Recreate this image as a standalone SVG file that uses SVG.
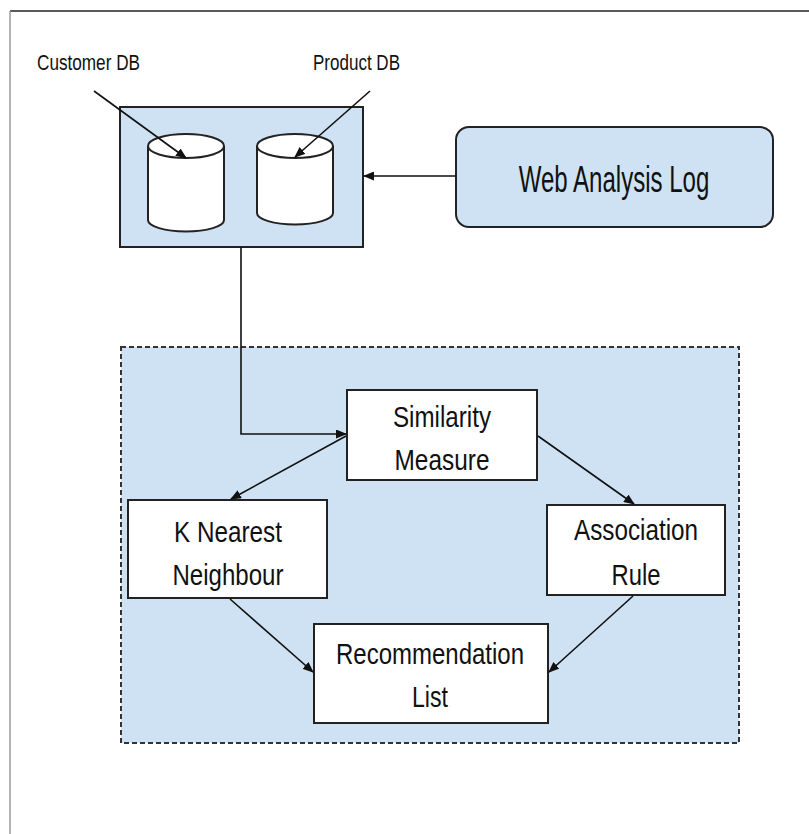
<svg xmlns="http://www.w3.org/2000/svg" width="809" height="834" viewBox="0 0 809 834">
  <defs>
    <marker id="arrow" markerUnits="userSpaceOnUse" markerWidth="11" markerHeight="9" refX="10" refY="4.5" orient="auto">
      <path d="M0,0 L11,4.5 L0,9 z" fill="#111"/>
    </marker>
    <style>
      .frame-top { stroke: #5a5a5a; stroke-width: 2; fill: none; }
      .frame-left { stroke: #9a9a9a; stroke-width: 1.5; fill: none; }
      .panel { fill: #cfe2f3; stroke: #222; stroke-width: 2; }
      .group { fill: #cfe2f3; stroke: #333; stroke-width: 2; stroke-dasharray: 5 3; }
      .box { fill: #ffffff; stroke: #222; stroke-width: 2; }
      .db { fill: #ffffff; stroke: #222; stroke-width: 2; }
      .edge { stroke: #111; stroke-width: 1.6; fill: none; marker-end: url(#arrow); }
      .label { font-family: "Liberation Sans", Arial, sans-serif; fill: #111; text-anchor: middle; }
      .small { font-size: 22px; }
      .big { font-size: 37px; }
      .node { font-size: 30px; }
    </style>
  </defs>

  <!-- page frame -->
  <line class="frame-top" x1="10" y1="11" x2="809" y2="11"/>
  <line class="frame-left" x1="10" y1="11" x2="10" y2="834"/>

  <!-- database panel -->
  <g id="db-panel">
    <rect class="panel" x="120" y="107" width="243" height="140"/>
    <g id="customer-db">
      <path class="db" d="M148,146 V220 A38,11.5 0 0 0 224,220 V146"/>
      <ellipse class="db" cx="186" cy="146" rx="38" ry="12"/>
    </g>
    <g id="product-db">
      <path class="db" d="M257,146 V213 A38,11.5 0 0 0 333,213 V146"/>
      <ellipse class="db" cx="295" cy="146" rx="38" ry="12"/>
    </g>
  </g>

  <!-- database labels -->
  <g id="customer-db-label">
    <text class="label small" x="88.5" y="70" textLength="103" lengthAdjust="spacingAndGlyphs">Customer DB</text>
  </g>
  <g id="product-db-label">
    <text class="label small" x="356.5" y="70" textLength="87" lengthAdjust="spacingAndGlyphs">Product DB</text>
  </g>

  <!-- web analysis log -->
  <g id="web-log">
    <rect class="panel" x="456" y="127" width="317" height="100" rx="13" ry="13"/>
    <text class="label big" transform="translate(614,192) scale(0.65,1)" x="0" y="0">Web Analysis Log</text>
  </g>

  <!-- recommender engine group -->
  <g id="engine">
    <rect class="group" x="121" y="347" width="618" height="396"/>
  </g>

  <g id="similarity">
    <rect class="box" x="347" y="390" width="190" height="90"/>
    <text class="label node" x="442" y="427" textLength="98" lengthAdjust="spacingAndGlyphs">Similarity</text>
    <text class="label node" x="442" y="470" textLength="95" lengthAdjust="spacingAndGlyphs">Measure</text>
  </g>

  <g id="knn">
    <rect class="box" x="128" y="500" width="199" height="98"/>
    <text class="label node" x="228" y="542" textLength="108" lengthAdjust="spacingAndGlyphs">K Nearest</text>
    <text class="label node" x="228" y="585" textLength="111" lengthAdjust="spacingAndGlyphs">Neighbour</text>
  </g>

  <g id="association">
    <rect class="box" x="547" y="505" width="178" height="90"/>
    <text class="label node" x="636" y="540" textLength="124" lengthAdjust="spacingAndGlyphs">Association</text>
    <text class="label node" x="636" y="585" textLength="49" lengthAdjust="spacingAndGlyphs">Rule</text>
  </g>

  <g id="recommendation">
    <rect class="box" x="314" y="624" width="234" height="99"/>
    <text class="label node" x="430" y="664" textLength="188" lengthAdjust="spacingAndGlyphs">Recommendation</text>
    <text class="label node" x="430" y="707" textLength="36" lengthAdjust="spacingAndGlyphs">List</text>
  </g>

  <!-- connectors -->
  <g id="connectors">
    <line class="edge" x1="94" y1="91" x2="186" y2="158"/>
    <line class="edge" x1="370" y1="91" x2="295" y2="157"/>
    <line class="edge" x1="456" y1="176" x2="364" y2="176"/>
    <path class="edge" d="M241,247 V434 H346"/>
    <line class="edge" x1="346" y1="436" x2="231" y2="499"/>
    <line class="edge" x1="538" y1="436" x2="634" y2="504"/>
    <line class="edge" x1="230" y1="599" x2="313" y2="672"/>
    <line class="edge" x1="633" y1="596" x2="549" y2="672"/>
  </g>
</svg>
